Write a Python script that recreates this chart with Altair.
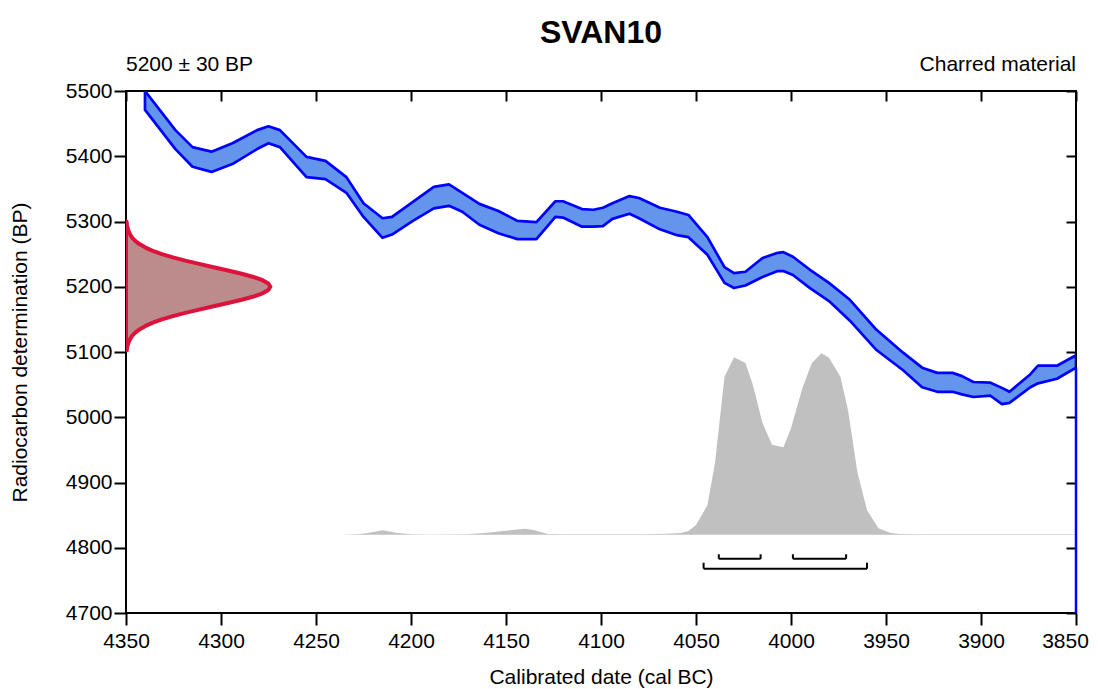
import altair as alt
import pandas as pd

# ---------------- data ----------------
# Calibration curve (IntCal band): calendar years BC, upper / lower edge in BP
cal_year = [4340, 4324, 4315, 4305, 4294, 4281, 4275, 4269, 4255, 4245,
            4234, 4225, 4215, 4210, 4199, 4188, 4180, 4173, 4164, 4154,
            4144, 4134, 4124, 4120, 4110, 4104, 4099, 4094, 4085, 4080,
            4069, 4060, 4054, 4044, 4035, 4030, 4024, 4015, 4007, 4004,
            3999, 3990, 3980, 3969, 3955, 3941, 3931, 3923, 3915, 3910,
            3904, 3895, 3889, 3885, 3874, 3870, 3860, 3850]
cal_upper = [5500, 5440, 5414, 5407, 5420, 5440, 5446, 5440, 5399, 5393,
             5368, 5328, 5305, 5307, 5330, 5353, 5357, 5344, 5327, 5316,
             5301, 5299, 5331, 5331, 5319, 5318, 5321, 5328, 5339, 5336,
             5321, 5315, 5310, 5276, 5230, 5221, 5223, 5244, 5252, 5253,
             5246, 5226, 5206, 5180, 5134, 5099, 5076, 5068, 5068, 5063,
             5054, 5053, 5045, 5039, 5066, 5079, 5079, 5095]
cal_lower = [5471, 5411, 5384, 5376, 5388, 5411, 5420, 5414, 5368, 5365,
             5344, 5307, 5275, 5280, 5301, 5320, 5324, 5315, 5295, 5282,
             5273, 5273, 5307, 5306, 5292, 5292, 5293, 5304, 5312, 5305,
             5288, 5279, 5276, 5249, 5206, 5198, 5202, 5215, 5224, 5224,
             5218, 5198, 5178, 5148, 5103, 5072, 5046, 5039, 5039, 5035,
             5031, 5033, 5020, 5022, 5046, 5052, 5059, 5076]

# Radiocarbon determination 5200 +/- 30 BP: extent (years) drawn from the y axis
rc_bp = [5100, 5105, 5110, 5115, 5120, 5125, 5130, 5135, 5140, 5145,
         5150, 5155, 5160, 5165, 5170, 5175, 5180, 5185, 5190, 5195,
         5200, 5205, 5210, 5215, 5220, 5225, 5230, 5235, 5240, 5245,
         5250, 5255, 5260, 5265, 5270, 5275, 5280, 5285, 5290, 5295, 5300]
rc_extent = [0.3, 0.5, 0.8, 1.4, 2.2, 3.3, 5.0, 7.3, 10.3, 14.1,
             18.9, 24.7, 31.2, 38.5, 46.1, 53.7, 60.9, 67.1, 71.9, 74.9,
             76.0, 74.9, 71.9, 67.1, 60.9, 53.7, 46.1, 38.5, 31.2, 24.7,
             18.9, 14.1, 10.3, 7.3, 5.0, 3.3, 2.2, 1.4, 0.8, 0.5, 0.3]

# Calibrated probability distribution (height in BP units above its baseline)
prob_year = [4235, 4228, 4222, 4215, 4208, 4200, 4190, 4170, 4160, 4150,
             4140, 4135, 4128, 4120, 4100, 4080, 4065, 4058, 4054, 4050,
             4044, 4040, 4035, 4030, 4024, 4020, 4015, 4010, 4004, 4000,
             3994, 3989, 3984, 3980, 3974, 3970, 3965, 3960, 3954, 3948,
             3943, 3930, 3900, 3850]
prob_height = [0.3, 0.6, 3, 7, 3, 0.6, 0.3, 0.6, 3, 6,
               9, 7, 1, 0.6, 0.6, 0.6, 1.5, 2.6, 5.7, 15,
               45, 110, 242, 272, 263, 229, 171, 138, 134, 163,
               225, 263, 278, 271, 242, 191, 95, 38, 10, 3,
               1, 0.6, 0.5, 0.5]

# Highest probability ranges (68.2% and 95.4%)
r68_start = [4038, 3999]
r68_end = [4016, 3971]
r95_start = [4046]
r95_end = [3960]

x_ticks = [4350, 4300, 4250, 4200, 4150, 4100, 4050, 4000, 3950, 3900, 3850]
y_ticks = [4700, 4800, 4900, 5000, 5100, 5200, 5300, 5400, 5500]

# ---------------- tables ----------------
PROB_BASE = 4820
band = pd.DataFrame({"year": cal_year, "upper": cal_upper, "lower": cal_lower})
outline_pts = [(y, u) for y, u in zip(cal_year, cal_upper)] + \
              [(y, l) for y, l in zip(cal_year[::-1], cal_lower[::-1])] + \
              [(cal_year[0], cal_upper[0])]
band_outline = pd.DataFrame({"year": [p[0] for p in outline_pts],
                             "bp": [p[1] for p in outline_pts],
                             "i": list(range(len(outline_pts)))})
right_edge = pd.DataFrame({"year": [cal_year[-1]], "bp": [cal_lower[-1]], "bp2": [4700]})

rc = pd.DataFrame({"bp": rc_bp, "x": [4350 - e for e in rc_extent], "x0": [4350] * len(rc_bp)})
rc_pts = [(4350 - e, b) for b, e in zip(rc_bp, rc_extent)] + [(4350, 5300), (4350, 5100)]
rc_outline = pd.DataFrame({"x": [p[0] for p in rc_pts], "bp": [p[1] for p in rc_pts],
                           "i": list(range(len(rc_pts)))})

prob = pd.DataFrame({"year": prob_year,
                     "top": [PROB_BASE + h for h in prob_height],
                     "base": [PROB_BASE] * len(prob_year)})

BAR68, TIP68 = 4783, 4790
BAR95, TIP95 = 4768, 4777
hbars = pd.DataFrame({"s": r68_start + r95_start, "e": r68_end + r95_end,
                      "bar": [BAR68] * len(r68_start) + [BAR95] * len(r95_start)})
vt = []
for s, e in zip(r68_start, r68_end):
    vt += [(s, BAR68, TIP68), (e, BAR68, TIP68)]
for s, e in zip(r95_start, r95_end):
    vt += [(s, BAR95, TIP95), (e, BAR95, TIP95)]
vticks = pd.DataFrame({"x": [v[0] for v in vt], "y1": [v[1] for v in vt], "y2": [v[2] for v in vt]})

# ---------------- scales / axes ----------------
FONT = "Liberation Sans"
FS = 21
xs = alt.Scale(domain=[3850, 4350], reverse=True, nice=False, zero=False)
ys = alt.Scale(domain=[4700, 5500], nice=False, zero=False)

x_axis = alt.Axis(values=x_ticks, format="d", title="Calibrated date (cal BC)",
                  tickSize=12, tickWidth=2, tickColor="black", domain=False, grid=False,
                  labelFontSize=FS, labelColor="black", labelPadding=5, labelOverlap=False,
                  labelFlush=False,
                  labelOffset={"condition": {"test": "datum.value === 3850", "value": -11}, "value": 0},
                  titleFontSize=FS, titleFontWeight="normal", titleColor="black",
                  titleX=475, titleY=70, titleBaseline="alphabetic", titleAnchor="middle")
y_axis = alt.Axis(values=y_ticks, format="d", title="Radiocarbon determination (BP)",
                  tickSize=12, tickWidth=2, tickColor="black", domain=False, grid=False,
                  labelFontSize=FS, labelColor="black", labelPadding=2, labelOverlap=False,
                  labelFlush=False, titleFontSize=FS, titleFontWeight="normal", titleColor="black",
                  titleX=-106, titleY=261, titleBaseline="middle", titleAngle=270)
x_top = alt.Axis(orient="top", values=x_ticks, labels=False, tickSize=10, tickWidth=2,
                 tickColor="black", offset=-10, domain=False, grid=False, title=None)
y_right = alt.Axis(orient="right", values=y_ticks, labels=False, tickSize=10, tickWidth=2,
                   tickColor="black", offset=-10, domain=False, grid=False, title=None)

# ---------------- layers ----------------
prob_layer = alt.Chart(prob).mark_area(color="#C0C0C0", clip=True).encode(
    x=alt.X("year:Q", scale=xs, axis=x_axis),
    y=alt.Y("top:Q", scale=ys, axis=y_axis),
    y2="base:Q")

band_layer = alt.Chart(band).mark_area(color="#6495ED", clip=True).encode(
    x=alt.X("year:Q", scale=xs, axis=None),
    y=alt.Y("upper:Q", scale=ys, axis=None),
    y2="lower:Q")

band_line = alt.Chart(band_outline).mark_line(color="#0000FF", strokeWidth=2.7, clip=True,
                                              strokeJoin="round").encode(
    x=alt.X("year:Q", scale=xs, axis=x_top),
    y=alt.Y("bp:Q", scale=ys, axis=y_right),
    order="i:Q")

edge_layer = alt.Chart(right_edge).mark_rule(color="#0000FF", strokeWidth=2.5).encode(
    x=alt.X("year:Q", scale=xs, axis=None),
    y=alt.Y("bp:Q", scale=ys, axis=None),
    y2="bp2:Q")

rc_fill = alt.Chart(rc).mark_area(orient="horizontal", color="#BC8C8C", clip=True).encode(
    y=alt.Y("bp:Q", scale=ys, axis=None),
    x=alt.X("x:Q", scale=xs, axis=None),
    x2="x0:Q")

rc_line = alt.Chart(rc_outline).mark_line(color="#DC143C", strokeWidth=4, clip=True,
                                          strokeJoin="round").encode(
    x=alt.X("x:Q", scale=xs, axis=None),
    y=alt.Y("bp:Q", scale=ys, axis=None),
    order="i:Q")

hbar_layer = alt.Chart(hbars).mark_rule(color="black", strokeWidth=2).encode(
    x=alt.X("s:Q", scale=xs, axis=None), x2="e:Q",
    y=alt.Y("bar:Q", scale=ys, axis=None))

vtick_layer = alt.Chart(vticks).mark_rule(color="black", strokeWidth=2).encode(
    x=alt.X("x:Q", scale=xs, axis=None),
    y=alt.Y("y1:Q", scale=ys, axis=None), y2="y2:Q")

one = pd.DataFrame({"a": [0]})
title_layer = alt.Chart(one).mark_text(text="SVAN10", fontSize=32, fontWeight="bold",
                                       font=FONT, color="black", baseline="middle",
                                       align="center").encode(
    x=alt.value(475), y=alt.value(-58))
left_sub = alt.Chart(one).mark_text(text="5200 ± 30 BP", fontSize=FS, font=FONT, color="black",
                                    baseline="middle", align="left").encode(
    x=alt.value(0), y=alt.value(-26))
right_sub = alt.Chart(one).mark_text(text="Charred material", fontSize=FS, font=FONT,
                                     color="black", baseline="middle", align="right").encode(
    x=alt.value(950), y=alt.value(-26))

chart = alt.layer(
    prob_layer, band_layer, band_line, edge_layer, rc_fill, rc_line,
    hbar_layer, vtick_layer, title_layer, left_sub, right_sub
).resolve_axis(x="independent", y="independent").properties(
    width=950, height=522,
    autosize=alt.AutoSizeParams(type="none"),
    padding={"left": 118, "top": 83, "right": 14, "bottom": 76},
    background="white"
).configure(font=FONT).configure_view(stroke="black", strokeWidth=2)

chart.save("out.html", embed_options={"renderer": "svg", "actions": False})
